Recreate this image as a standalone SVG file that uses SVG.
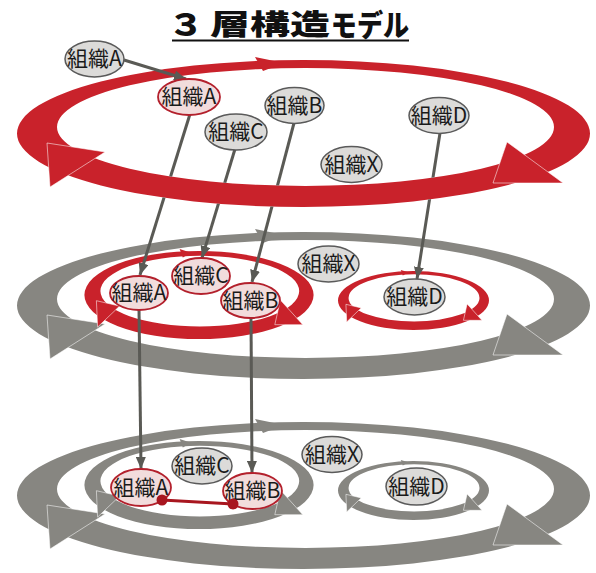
<svg xmlns="http://www.w3.org/2000/svg" width="596" height="573" viewBox="0 0 596 573">
<style>
 .red{fill:#c9222b}
 .gray{fill:#878681}
 .head{stroke:#ffffff;stroke-opacity:.6;stroke-width:0.9;vector-effect:non-scaling-stroke}
 .ng ellipse{fill:#dcdbd9;stroke:#5a5a5a;stroke-width:1.5}
 .np ellipse{fill:#f2dcdc;stroke:#b3202c;stroke-width:1.8}
 text.lbl{font-family:"Noto Sans CJK JP","Noto Sans",sans-serif;font-size:21px;fill:#1a1a1a;text-anchor:middle}
 .ln{stroke:#5a5a55;stroke-width:3;fill:none;marker-end:url(#ah)}
 .title{font-family:"Noto Sans CJK JP","Noto Sans",sans-serif;font-weight:900;fill:#111;text-anchor:middle}
</style>
<defs>
 <path id="band" fill-rule="evenodd" d="M-286.5,0 A286.5,73.5 0 1 0 286.5,0 A286.5,73.5 0 1 0 -286.5,0 Z M-246.5,-6.5 A248.5,59 0 1 0 250.5,-6.5 A248.5,59 0 1 0 -246.5,-6.5 Z"/>
 <g id="ring">
  <use href="#band"/>
  <path class="head" d="M-256.5,9.5 L-198.5,18.5 L-253.5,53.5 Z"/>
  <path class="head" d="M189.5,49.5 L203.5,8.5 L259.5,49.5 Z"/>
  <path d="M-19.5,-70.5 L-48.5,-76.5 L-40.5,-62.5 Z"/>
 </g>
 <marker id="ah" markerUnits="userSpaceOnUse" viewBox="0 0 12 10" markerWidth="12" markerHeight="10" refX="12" refY="5" orient="auto">
  <path d="M0,0 L12,5 L0,10 Z" fill="#5a5a55"/>
 </marker>
 <mask id="mtop" maskUnits="userSpaceOnUse" x="0" y="0" width="596" height="573">
  <rect width="596" height="573" fill="#fff"/>
  <use href="#band" transform="translate(303.5,133.5)" fill="#000"/>
 </mask>
</defs>

<g id="title">
 <text class="title" transform="translate(186,35.5) scale(1.2,1)" style="font-size:30px">３</text>
 <text class="title" transform="translate(270,35) scale(1.11,0.8)" style="font-size:36px">層構造</text>
 <text class="title" transform="translate(370,35.5) scale(0.87,1)" style="font-size:30px">モデル</text>
 <line x1="172" y1="40.5" x2="409" y2="40.5" stroke="#111" stroke-width="2"/>
</g>

<g id="rings">
 <use id="ring-mid-outer" href="#ring" class="gray" transform="translate(303.5,305.5)"/>
 <use id="ring-mid-inner" href="#ring" class="red" transform="translate(199,295) scale(0.4,0.6)"/>
 <use id="ring-mid-d" href="#ring" class="red" transform="translate(413.5,300.5) scale(0.2635,0.4)"/>
 <use id="ring-bot-outer" href="#ring" class="gray" transform="translate(303.5,495.5)"/>
 <use id="ring-bot-inner" href="#ring" class="gray" transform="translate(199,485) scale(0.4,0.6)"/>
 <use id="ring-bot-d" href="#ring" class="gray" transform="translate(413.5,490.5) scale(0.2635,0.4)"/>
 <use id="ring-top" href="#ring" class="red" transform="translate(303.5,133.5)"/>
</g>

<g id="connectors">
 <line class="ln" x1="124" y1="60" x2="186" y2="79"/>
 <line class="ln" mask="url(#mtop)" x1="190" y1="114" x2="140" y2="275"/>
 <line class="ln" mask="url(#mtop)" x1="235" y1="149" x2="202" y2="258"/>
 <line class="ln" mask="url(#mtop)" x1="294" y1="123" x2="252" y2="282"/>
 <line class="ln" mask="url(#mtop)" x1="440" y1="133" x2="417" y2="279"/>
 <line class="ln" x1="139" y1="309" x2="141" y2="469"/>
 <line class="ln" x1="251" y1="317" x2="252" y2="473"/>
</g>

<g id="n-top-outA" class="ng"><ellipse cx="94.5" cy="59" rx="29.5" ry="18"/><text class="lbl" x="94.5" y="66">組織A</text></g>
<g id="n-top-A" class="np"><ellipse cx="189" cy="97" rx="31" ry="18"/><text class="lbl" x="189" y="104">組織A</text></g>
<g id="n-top-C" class="ng"><ellipse cx="236" cy="132" rx="31" ry="18"/><text class="lbl" x="236" y="139">組織C</text></g>
<g id="n-top-B" class="ng"><ellipse cx="294.5" cy="105.5" rx="29.5" ry="18"/><text class="lbl" x="294.5" y="112.5">組織B</text></g>
<g id="n-top-D" class="ng"><ellipse cx="439" cy="115.5" rx="30" ry="18"/><text class="lbl" x="439" y="122.5">組織D</text></g>
<g id="n-top-X" class="ng"><ellipse cx="351.5" cy="164.5" rx="30.5" ry="18"/><text class="lbl" x="351.5" y="171.5">組織X</text></g>

<g id="n-mid-A" class="np"><ellipse cx="139" cy="293" rx="29" ry="17"/><text class="lbl" x="139" y="300">組織A</text></g>
<g id="n-mid-C" class="np"><ellipse cx="201" cy="276" rx="29" ry="18"/><text class="lbl" x="201" y="283">組織C</text></g>
<g id="n-mid-B" class="np"><ellipse cx="250.5" cy="300.5" rx="29.5" ry="17.5"/><text class="lbl" x="250.5" y="307.5">組織B</text></g>
<g id="n-mid-X" class="ng"><ellipse cx="328.5" cy="264" rx="30.5" ry="18"/><text class="lbl" x="328.5" y="271">組織X</text></g>
<g id="n-mid-D" class="ng"><ellipse cx="414.5" cy="297" rx="30.5" ry="18"/><text class="lbl" x="414.5" y="304">組織D</text></g>

<g id="n-bot-A" class="np"><ellipse cx="141" cy="487.5" rx="30" ry="18.5"/><text class="lbl" x="141" y="494.5">組織A</text></g>
<g id="n-bot-C" class="ng"><ellipse cx="202" cy="466" rx="30" ry="18"/><text class="lbl" x="202" y="473">組織C</text></g>
<g id="n-bot-B" class="np"><ellipse cx="252.5" cy="491" rx="29.5" ry="18"/><text class="lbl" x="252.5" y="498">組織B</text></g>
<g id="n-bot-X" class="ng"><ellipse cx="332" cy="454.5" rx="30" ry="18"/><text class="lbl" x="332" y="461.5">組織X</text></g>
<g id="n-bot-D" class="ng"><ellipse cx="416.5" cy="486.5" rx="30.5" ry="18.5"/><text class="lbl" x="416.5" y="493.5">組織D</text></g>

<g id="link-AB">
 <line x1="162" y1="500" x2="233" y2="504" stroke="#a8161f" stroke-width="3"/>
 <circle cx="162" cy="500" r="5.5" fill="#a8161f"/>
 <circle cx="233" cy="504" r="5.5" fill="#a8161f"/>
</g>
</svg>
